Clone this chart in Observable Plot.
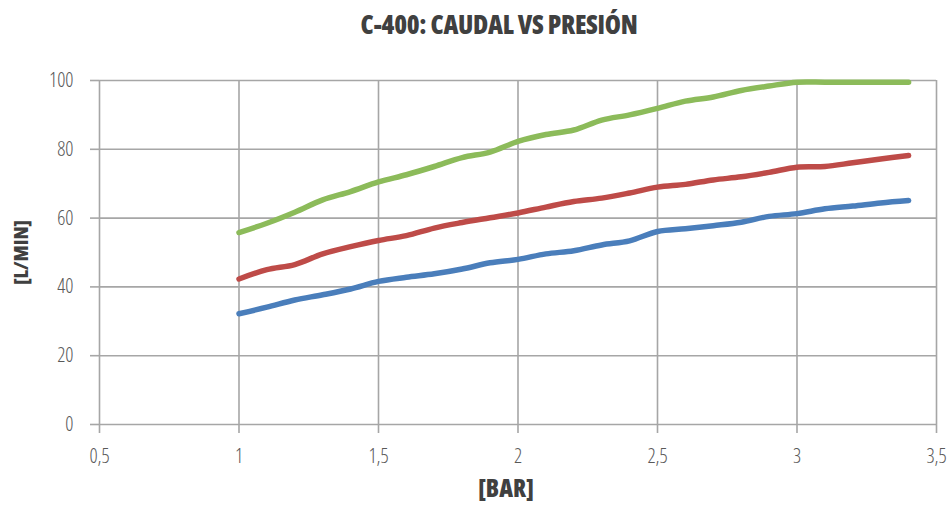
<!DOCTYPE html>
<html>
<head>
<meta charset="utf-8">
<script src="https://cdn.jsdelivr.net/npm/d3@7"></script>
<script src="https://cdn.jsdelivr.net/npm/@observablehq/plot@0.6"></script>
<style>
  html, body { margin: 0; padding: 0; background: #fff; }
  #title { height: 45px; width: 952px; box-sizing: border-box; padding-top: 6px; padding-left: 46px;
    text-align: center; font-family: "Open Sans", "DejaVu Sans Condensed", sans-serif; font-stretch: 75%;
    font-weight: 800; font-size: 26px; color: #404040; letter-spacing: -0.3px; }
  svg text { font-stretch: 75%; }
</style>
</head>
<body>
<div id="title">C-400: CAUDAL VS PRESIÓN</div>
<div id="chart"></div>
<script>
const pressure = [1.0,1.1,1.2,1.3,1.4,1.5,1.6,1.7,1.8,1.9,2.0,2.1,2.2,2.3,2.4,2.5,2.6,2.7,2.8,2.9,3.0,3.1,3.2,3.3,3.4];
const seriesBlue  = [32.2,34.1,36.2,37.7,39.4,41.6,42.8,43.8,45.2,47.0,48.0,49.6,50.5,52.2,53.4,56.1,56.9,57.8,58.8,60.5,61.3,62.7,63.5,64.4,65.1];
const seriesRed   = [42.3,45.0,46.5,49.6,51.7,53.5,54.9,57.1,58.7,60.1,61.5,63.2,64.8,65.8,67.3,69.0,69.8,71.1,72.0,73.3,74.8,75.0,76.1,77.2,78.2];
const seriesGreen = [55.8,58.5,61.7,65.3,67.7,70.5,72.6,75.0,77.6,79.2,82.3,84.3,85.6,88.5,90.0,91.9,94.0,95.2,97.1,98.4,99.5,99.5,99.5,99.5,99.5];
const xTicks = [0.5,1,1.5,2,2.5,3,3.5];
const yTicks = [0,20,40,60,80,100];
const colors = {blue: "#4A7EBB", red: "#BE4B48", green: "#8CBB5A"};

const rows = [];
[["green", seriesGreen], ["red", seriesRed], ["blue", seriesBlue]].forEach(([name, vals]) => {
  pressure.forEach((p, i) => rows.push({serie: name, x: p, y: vals[i]}));
});

const font = '"Open Sans", "DejaVu Sans Condensed", sans-serif';
const gridColor = "#a6a6a6";

const chart = Plot.plot({
  width: 952,
  height: 467,
  marginLeft: 99,
  marginRight: 16,
  marginTop: 35,
  marginBottom: 88,
  style: {fontFamily: font, fontSize: "16px", color: "#595959", background: "#fff"},
  x: {domain: [0.5, 3.5]},
  y: {domain: [0, 100]},
  marks: [
    Plot.gridX(xTicks, {stroke: gridColor, strokeOpacity: 1, strokeWidth: 1.6}),
    Plot.gridY(yTicks, {stroke: gridColor, strokeOpacity: 1, strokeWidth: 1.6}),
    Plot.axisX(xTicks, {tickSize: 9, tickPadding: 15, stroke: gridColor, strokeWidth: 1.6,
      tickFormat: d => String(d).replace(".", ","), label: null, fill: "#595959", fontSize: 20, fontWeight: 300}),
    Plot.axisY(yTicks, {tickSize: 9, tickPadding: 17, stroke: gridColor, strokeWidth: 1.6,
      label: null, fill: "#595959", fontSize: 20, fontWeight: 300}),
    Plot.line(rows, {x: "x", y: "y", z: "serie", stroke: d => colors[d.serie],
      strokeWidth: 5.5, curve: "catmull-rom", strokeLinecap: "round", strokeLinejoin: "round"}),
    Plot.text(["[BAR]"], {frameAnchor: "bottom", dx: -12, dy: 72, text: d => d, fontWeight: 800,
      fontSize: 24, fill: "#404040", fontFamily: font}),
    Plot.text(["[L/MIN]"], {frameAnchor: "left", textAnchor: "middle", dx: -78, rotate: -90, text: d => d, fontWeight: 800,
      fontSize: 20, fill: "#404040", fontFamily: font})
  ]
});
document.getElementById("chart").appendChild(chart);
</script>
</body>
</html>
